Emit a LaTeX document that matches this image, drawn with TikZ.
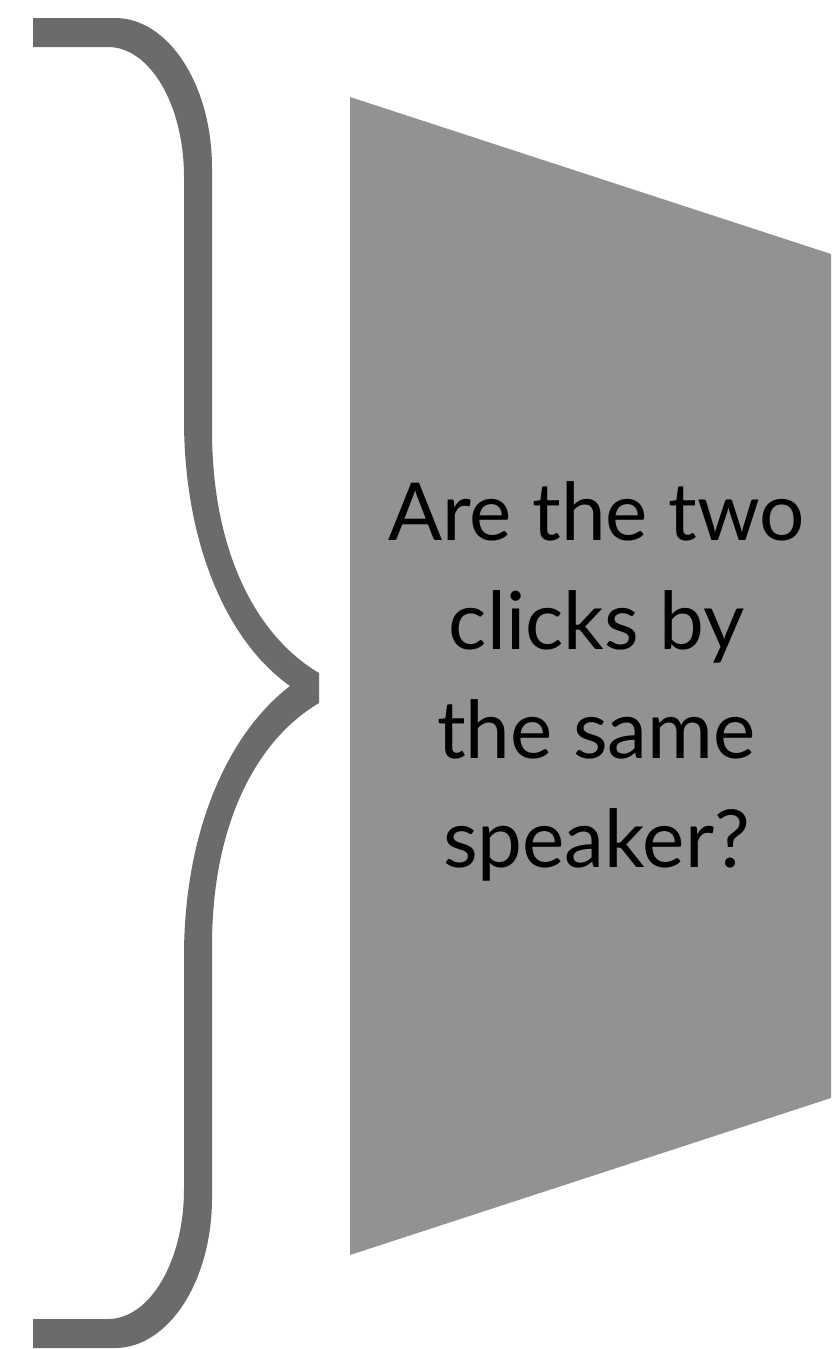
\documentclass[tikz,border=0pt]{standalone}
\usepackage{fontspec}
\setmainfont{Lato}
\definecolor{bracegray}{HTML}{6B6B6B}
\definecolor{boxgray}{HTML}{929292}
\tikzset{
  bracefill/.style={fill=bracegray, draw=none},
  funnel/.style={fill=boxgray, draw=none},
  qtext/.style={align=center, inner sep=0pt, text=black, font=\fontsize{80}{109}\selectfont}
}
\begin{document}
\begin{tikzpicture}[x=1pt,y=-1pt]
\useasboundingbox (0,0) rectangle (831,1349);
% brace
\path[bracefill] (33,18) -- (115,18) .. controls (168.5,18) and (212,85) .. (212,168)
  -- (212,430) .. controls (212,550) and (255,635) .. (319,673)
  -- (319,703) .. controls (255,741) and (212,826) .. (212,946)
  -- (212,1198) .. controls (212,1281) and (168.5,1348) .. (115,1348)
  -- (33,1348) -- (33,1319) -- (108,1319) .. controls (150,1319) and (184,1261) .. (184,1189)
  -- (184,956) .. controls (184,836) and (225,736) .. (290,686)
  .. controls (225,640) and (184,540) .. (184,420)
  -- (184,177) .. controls (184,105) and (150,47) .. (108,47) -- (33,47) -- cycle;
% funnel
\path[funnel] (350,97) -- (831,254) -- (831,1098) -- (350,1255) -- cycle;
\node[qtext] (q) at (596.5,681) {Are the two\\clicks by\\the same\\speaker?};
\end{tikzpicture}
\end{document}
